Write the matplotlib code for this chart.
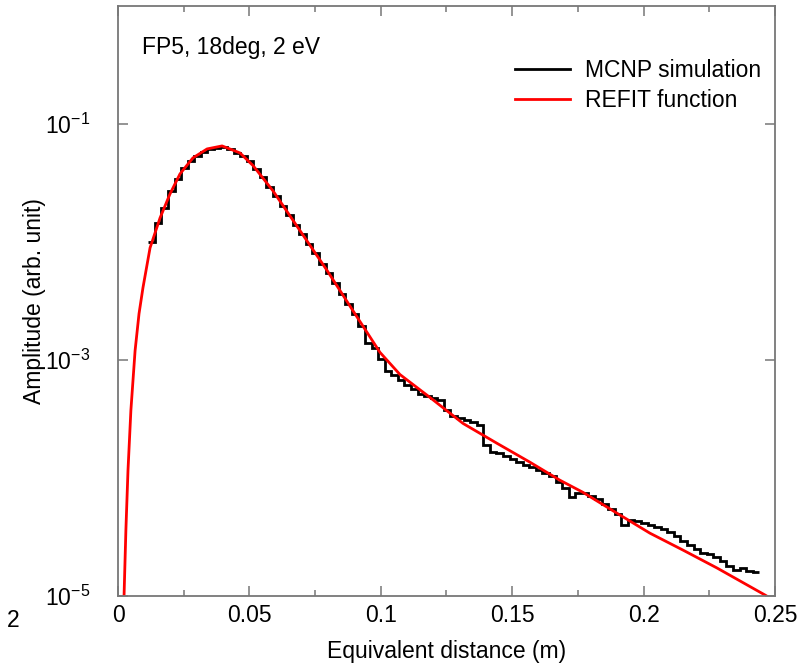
"""
MCNP simulation vs REFIT function (FP5, 18deg, 2 eV)
"""
import numpy as np
import matplotlib
matplotlib.use('Agg')
import matplotlib.pyplot as plt
from matplotlib.ticker import FixedLocator, MultipleLocator, NullLocator, LogFormatterSciNotation

plt.rcParams['font.family'] = ['Liberation Sans', 'DejaVu Sans']
plt.rcParams['mathtext.fontset'] = 'custom'
plt.rcParams['mathtext.rm'] = 'Liberation Sans'

FS = 16.5

# MCNP histogram (bin width 0.0025 m, first edge 0.0115 m)
bin_start = 0.0115
bin_width = 0.0025
mcnp_amp = [
    1.005e-2, 1.455e-2, 1.949e-2, 2.713e-2, 3.426e-2, 4.246e-2, 4.865e-2, 5.362e-2,
    5.797e-2, 6.146e-2, 6.266e-2, 6.389e-2, 6.146e-2, 5.686e-2, 5.362e-2, 4.865e-2,
    4.164e-2, 3.562e-2, 2.932e-2, 2.461e-2, 2.026e-2, 1.700e-2, 1.400e-2, 1.174e-2,
    9.665e-3, 8.113e-3, 6.550e-3, 5.495e-3, 4.522e-3, 3.651e-3, 3.005e-3, 2.473e-3,
    1.958e-3, 1.406e-3, 1.276e-3, 1.030e-3, 8.150e-4, 7.394e-4, 6.709e-4, 6.085e-4,
    5.629e-4, 5.107e-4, 4.912e-4, 4.724e-4, 4.545e-4, 3.740e-4, 3.328e-4, 3.201e-4,
    3.079e-4, 2.962e-4, 2.794e-4, 1.892e-4, 1.651e-4, 1.619e-4, 1.527e-4, 1.441e-4,
    1.359e-4, 1.282e-4, 1.233e-4, 1.163e-4, 1.097e-4, 1.035e-4, 9.208e-5, 8.190e-5,
    6.875e-5, 7.430e-5, 7.430e-5, 7.010e-5, 6.612e-5, 5.998e-5, 5.442e-5, 4.936e-5,
    3.985e-5, 4.392e-5, 4.307e-5, 4.142e-5, 3.985e-5, 3.833e-5, 3.687e-5, 3.477e-5,
    3.217e-5, 2.919e-5, 2.700e-5, 2.497e-5, 2.310e-5, 2.265e-5, 2.137e-5, 1.977e-5,
    1.794e-5, 1.660e-5, 1.725e-5, 1.627e-5, 1.596e-5,
]

# REFIT function
refit_x = [
    0.0023, 0.0030, 0.0038, 0.0049, 0.0065, 0.0080, 0.0095, 0.0122, 0.0160, 0.0198, 0.0236,
    0.0285, 0.0339, 0.0396, 0.0464, 0.0514, 0.0590, 0.0693, 0.0796, 0.0894, 0.0997,
    0.1073, 0.1187, 0.1313, 0.1442, 0.1568, 0.1682, 0.1769, 0.1899, 0.2024, 0.2150,
    0.2279, 0.2462, 0.2500,
]
refit_amp = [
    1.00e-5, 3.61e-5, 1.16e-4, 3.74e-4, 1.20e-3, 2.47e-3, 4.10e-3, 8.93e-3, 1.60e-2, 2.56e-2, 3.78e-2,
    5.16e-2, 6.15e-2, 6.52e-2, 5.69e-2, 4.44e-2, 2.71e-2, 1.245e-2, 5.72e-3, 2.62e-3, 1.16e-3,
    7.53e-4, 4.82e-4, 2.90e-4, 1.97e-4, 1.36e-4, 9.57e-5, 7.57e-5, 5.03e-5, 3.41e-5, 2.45e-5,
    1.73e-5, 1.02e-5, 9.08e-6,
]

x_ticks = [0, 0.05, 0.1, 0.15, 0.2, 0.25]
x_ticklabels = ['0', '0.05', '0.1', '0.15', '0.2', '0.25']

edges = bin_start + bin_width * np.arange(len(mcnp_amp) + 1)

fig = plt.figure(figsize=(8.11, 6.67), dpi=100)
ax = fig.add_axes([0.1455, 0.1064, 0.8101, 0.8846])

ax.stairs(mcnp_amp, edges, baseline=None, color='black', lw=2.0, label='MCNP simulation')
ax.plot(refit_x, refit_amp, color='#ff0000', lw=2.0, label='REFIT function')

ax.set_yscale('log')
ax.set_xlim(0, 0.25)
ax.set_ylim(1e-5, 1)

ax.set_xticks(x_ticks, x_ticklabels)
ax.xaxis.set_minor_locator(MultipleLocator(0.025))
ax.yaxis.set_major_locator(FixedLocator([1e-5, 1e-3, 1e-1]))
ax.yaxis.set_major_formatter(LogFormatterSciNotation())
ax.yaxis.set_minor_locator(NullLocator())

ax.tick_params(which='both', direction='in', top=True, right=True,
               colors='#777777', labelcolor='black', labelsize=FS)
ax.tick_params(axis='x', pad=6)
ax.tick_params(axis='y', pad=20)
ax.tick_params(which='major', length=7, width=1.1)
ax.tick_params(which='minor', length=4, width=1.1)
for sp in ax.spines.values():
    sp.set_color('#777777')
    sp.set_linewidth(1.3)

ax.set_xlabel('Equivalent distance (m)', fontsize=FS, labelpad=9)
ax.set_ylabel('Amplitude (arb. unit)', fontsize=FS, labelpad=-1)

ax.text(0.036, 0.93, 'FP5, 18deg, 2 eV', transform=ax.transAxes, fontsize=FS,
        va='center', ha='left')
ax.legend(loc='upper right', bbox_to_anchor=(0.993, 0.925), frameon=False, fontsize=FS,
          handlelength=2.4, handletextpad=0.65, labelspacing=0.3, borderaxespad=0.0)

fig.text(0.008, 0.07, '2', fontsize=FS, ha='left', va='center')

plt.savefig('out.png', dpi=100)
plt.close()
